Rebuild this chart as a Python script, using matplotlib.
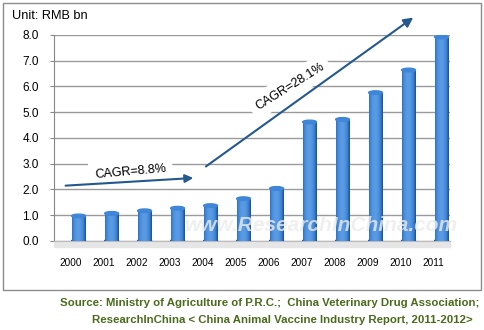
import numpy as np
import matplotlib.pyplot as plt
from matplotlib.patches import Rectangle, Ellipse
from matplotlib.colors import LinearSegmentedColormap

plt.rcParams['font.family'] = ['Liberation Sans', 'DejaVu Sans']

years = ['2000', '2001', '2002', '2003', '2004', '2005',
         '2006', '2007', '2008', '2009', '2010', '2011']
values = [0.97, 1.07, 1.17, 1.27, 1.37, 1.64, 2.04, 4.62, 4.72, 5.76, 6.64, 7.92]
yticks = [0.0, 1.0, 2.0, 3.0, 4.0, 5.0, 6.0, 7.0, 8.0]

fig = plt.figure(figsize=(4.84, 3.30), dpi=100)
ax = fig.add_axes([0.112, 0.27, 0.818, 0.624])

# outer chart frame
fig.patches.append(Rectangle((3 / 484, 1 - 290 / 330), 478 / 484, 287 / 330,
                             transform=fig.transFigure, fill=False,
                             edgecolor="#8c8c8c", linewidth=1))

x = np.arange(len(years))
# 3D-look: columns sit slightly right of their labels
bars = ax.bar(x + 0.24, values, width=0.42, color="#2f6db8", zorder=3)

# cylinder shading + top cap
cyl = LinearSegmentedColormap.from_list('cyl', ["#1d4f8c", "#3b82d6", "#5a9be3"])
grad = np.linspace(0, 1, 64).reshape(1, -1)
shade = 0.55 + 0.45 * np.sin(np.pi * (grad * 0.9 + 0.1))
for b in bars:
    x0, w, h = b.get_x(), b.get_width(), b.get_height()
    im = ax.imshow(shade, extent=(x0, x0 + w, 0, h), aspect='auto',
                   cmap=cyl, vmin=0.55, vmax=1.0, zorder=3)
    im.set_clip_path(b)
    ax.add_patch(Ellipse((x0 + w / 2, h), w, 0.14, color="#3f86d8", zorder=4))
    ax.add_patch(Ellipse((x0 + w / 2, 0), w, 0.14, color="#1d4f8c", zorder=2))

ax.set_xlim(-0.5, 11.5)
ax.set_ylim(0, 8)
ax.set_yticks(yticks)
ax.set_yticklabels([f"{v:.1f}" for v in yticks], fontsize=8.5)
ax.set_xticks(x)
ax.set_xticklabels(years, fontsize=7.2)
ax.set_xticks(np.arange(-0.5, 12, 1), minor=True)
ax.tick_params(axis='x', which='major', length=0, pad=12)
ax.tick_params(axis='x', which='minor', length=4, color="#888888", direction='out')
ax.tick_params(axis='y', length=3, color="#888888", pad=8)

ax.grid(axis='y', color="#9a9a9a", linewidth=1, zorder=0)
ax.set_axisbelow(True)
for s in ['top', 'right']:
    ax.spines[s].set_visible(False)
ax.spines['left'].set_color("#888888")
ax.spines['bottom'].set_color("#bbbbbb")
ax.axhspan(-0.25, 0, color="#e6e6e6", zorder=1, clip_on=False)

# watermark
ax.text(7.6, 0.6, "www.ResearchInChina.com", fontsize=15, fontweight='bold',
        style='italic', color="#ececec", alpha=0.8, ha='center', va='center', zorder=5)

# CAGR arrows
arrow_c = "#24588f"
ax.annotate("", xy=(3.8, 2.45), xytext=(-0.24, 2.14),
            arrowprops=dict(arrowstyle="-|>", color=arrow_c, lw=1.5,
                            mutation_scale=12), annotation_clip=False, zorder=6)
ax.annotate("", xy=(10.45, 8.74), xytext=(4.03, 2.83),
            arrowprops=dict(arrowstyle="-|>", color=arrow_c, lw=1.5,
                            mutation_scale=14), annotation_clip=False, zorder=6)
ax.text(1.82, 2.7, "CAGR=8.8%", fontsize=9, rotation=5, ha='center', va='center',
        backgroundcolor='white', zorder=5)
ax.text(6.64, 6.0, "CAGR=28.1%", fontsize=9, rotation=32, ha='center', va='center',
        backgroundcolor='white', zorder=5)

fig.text(12 / 484, 1 - 16 / 330, "Unit: RMB bn", fontsize=9.2, va='center')

src_c = "#4a6b1c"
fig.text(479 / 484, 1 - 303 / 330,
         "Source: Ministry of Agriculture of P.R.C.;  China Veterinary Drug Association;",
         fontsize=8.2, fontweight='bold', color=src_c, ha='right', va='center')
fig.text(473 / 484, 1 - 320 / 330,
         "ResearchInChina < China Animal Vaccine Industry Report, 2011-2012>",
         fontsize=8.2, fontweight='bold', color=src_c, ha='right', va='center')

fig.savefig("out.png", dpi=100)
